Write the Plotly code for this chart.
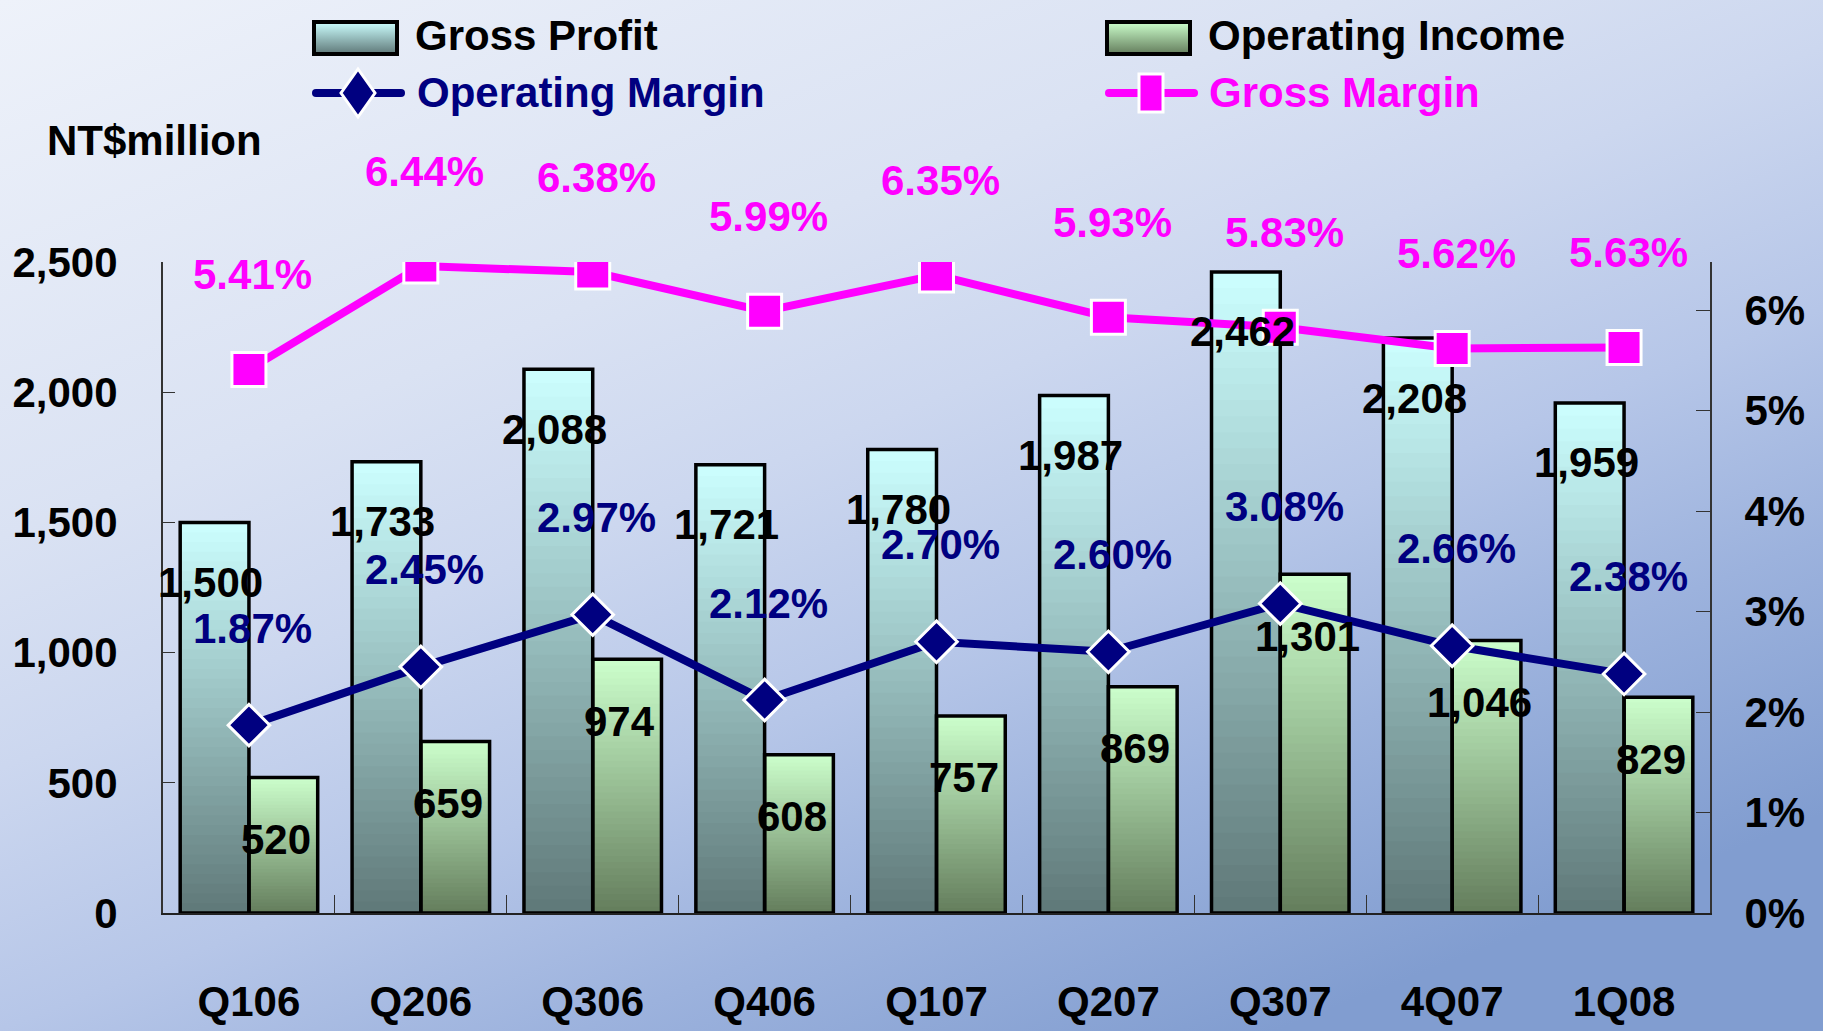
import base64
import plotly.graph_objects as go

# ---------------- data ----------------
categories = ["Q106", "Q206", "Q306", "Q406", "Q107", "Q207", "Q307", "4Q07", "1Q08"]
gross_profit = [1500, 1733, 2088, 1721, 1780, 1987, 2462, 2208, 1959]
operating_income = [520, 659, 974, 608, 757, 869, 1301, 1046, 829]
operating_margin = [1.87, 2.45, 2.97, 2.12, 2.70, 2.60, 3.08, 2.66, 2.38]
gross_margin = [5.41, 6.44, 6.38, 5.99, 6.35, 5.93, 5.83, 5.62, 5.63]

# ---------------- styling ----------------
W, H = 1823, 1031
L, R, T, B = 163, 1710, 262, 913          # plot-area pixel box
FONT = "Liberation Sans Narrow, Arial Narrow, Liberation Sans, Arial, sans-serif"
FS = 42
NAVY = "#000080"
MAG = "#FF00FF"
GP_TOP, GP_BOT = (204, 255, 255), (95, 120, 120)
OI_TOP, OI_BOT = (204, 255, 204), (100, 125, 92)
K = 40  # gradient steps


def px(x):
    return (x - L) / (R - L)


def py(y):
    return (B - y) / (B - T)


def mix(c0, c1, f):
    return "rgb(%d,%d,%d)" % tuple(round(a + (b - a) * f) for a, b in zip(c0, c1))


def svg_uri(svg):
    return "data:image/svg+xml;base64," + base64.b64encode(svg.encode()).decode()


fig = go.Figure()


def gradient_bars(values, top, bot, group):
    # overlapping bars of decreasing height give a vertical gradient per bar
    for k in range(K):
        frac = (K - k) / K
        f = (K - k - 0.5) / K
        fig.add_trace(go.Bar(
            x=categories, y=[v * frac for v in values], offsetgroup=group,
            marker=dict(color=mix(bot, top, f), line=dict(width=0)),
            showlegend=False, hoverinfo="skip"))


gradient_bars(gross_profit, GP_TOP, GP_BOT, "gp")
gradient_bars(operating_income, OI_TOP, OI_BOT, "oi")

fig.add_trace(go.Bar(x=categories, y=gross_profit, offsetgroup="gp", name="Gross Profit",
                     marker=dict(color="rgba(0,0,0,0)", line=dict(color="black", width=3.5)),
                     showlegend=False))
fig.add_trace(go.Bar(x=categories, y=operating_income, offsetgroup="oi", name="Operating Income",
                     marker=dict(color="rgba(0,0,0,0)", line=dict(color="black", width=3.5)),
                     showlegend=False))

fig.add_trace(go.Scatter(x=categories, y=operating_margin, yaxis="y2", name="Operating Margin",
                         mode="lines+markers", line=dict(color=NAVY, width=8),
                         marker=dict(symbol="diamond", size=32, color=NAVY,
                                     line=dict(color="white", width=3)),
                         showlegend=False))
fig.add_trace(go.Scatter(x=categories, y=gross_margin, yaxis="y2", name="Gross Margin",
                         mode="lines+markers", line=dict(color=MAG, width=8),
                         marker=dict(symbol="square", size=34, color=MAG,
                                     line=dict(color="white", width=3)),
                         showlegend=False))

annotations = []
lab_font = dict(family=FONT, size=FS, weight="bold")
for c, v in zip(categories, gross_profit):
    annotations.append(dict(x=c, y=v, xref="x", yref="y", text=f"{v:,}", showarrow=False,
                            xshift=-38, yshift=-60, font=dict(lab_font, color="black")))
for c, v in zip(categories, operating_income):
    annotations.append(dict(x=c, y=v, xref="x", yref="y", text=f"{v:,}", showarrow=False,
                            xshift=27, yshift=-62, font=dict(lab_font, color="black")))
for c, v in zip(categories, operating_margin):
    annotations.append(dict(x=c, y=v, xref="x", yref="y2", text=f"{v:.2f}%", showarrow=False,
                            xshift=4, yshift=97, font=dict(lab_font, color=NAVY)))
for c, v in zip(categories, gross_margin):
    annotations.append(dict(x=c, y=v, xref="x", yref="y2", text=f"{v:.2f}%", showarrow=False,
                            xshift=4, yshift=95, font=dict(lab_font, color=MAG)))

# unit label
annotations.append(dict(x=px(45), y=py(140), xref="paper", yref="paper", xanchor="left",
                        yanchor="middle", text="NT$million", showarrow=False,
                        font=dict(lab_font, color="black")))

# custom legend text
legend_items = [
    ("Gross Profit", "black", 413, 35),
    ("Operating Income", "black", 1206, 35),
    ("Operating Margin", NAVY, 415, 93),
    ("Gross Margin", MAG, 1207, 93),
]
for text, col, lx, ly in legend_items:
    annotations.append(dict(x=px(lx), y=py(ly), xref="paper", yref="paper", xanchor="left",
                            yanchor="middle", text=text, showarrow=False,
                            font=dict(lab_font, color=col)))

# ---------------- images: background & legend swatches ----------------
bg_stops = [(0, "#eef2fa"), (0.35, "#dae2f3"), (0.5, "#ccd7ef"), (0.67, "#b6c6e8"),
            (0.82, "#9cb2dd"), (1, "#819dd0")]
bg_svg = ('<svg xmlns="http://www.w3.org/2000/svg" width="%d" height="%d" preserveAspectRatio="none">'
          '<defs><linearGradient id="g" x1="0" y1="0" x2="0.7" y2="1">%s</linearGradient></defs>'
          '<rect width="%d" height="%d" fill="url(#g)"/></svg>') % (
    W, H, "".join('<stop offset="%s" stop-color="%s"/>' % s for s in bg_stops), W, H)


def bar_swatch(top, bot):
    return ('<svg xmlns="http://www.w3.org/2000/svg" width="87" height="36">'
            '<defs><linearGradient id="s" x1="0" y1="0" x2="0" y2="1">'
            '<stop offset="0" stop-color="%s"/><stop offset="1" stop-color="%s"/>'
            '</linearGradient></defs>'
            '<rect x="2" y="2" width="83" height="32" fill="url(#s)" stroke="black" stroke-width="4"/>'
            '</svg>') % (mix(top, top, 0), mix(bot, bot, 0))


om_swatch = ('<svg xmlns="http://www.w3.org/2000/svg" width="93" height="54">'
             '<line x1="4" y1="27" x2="89" y2="27" stroke="%s" stroke-width="8" stroke-linecap="round"/>'
             '<polygon points="46,3 63,27 46,51 29,27" fill="%s" stroke="white" stroke-width="3"/>'
             '</svg>') % (NAVY, NAVY)
gm_swatch = ('<svg xmlns="http://www.w3.org/2000/svg" width="93" height="54">'
             '<line x1="4" y1="27" x2="89" y2="27" stroke="%s" stroke-width="8" stroke-linecap="round"/>'
             '<rect x="34" y="8" width="24" height="38" fill="%s" stroke="white" stroke-width="3"/>'
             '</svg>') % (MAG, MAG)

images = [dict(source=svg_uri(bg_svg), xref="paper", yref="paper", x=px(0), y=py(0),
               sizex=W / (R - L), sizey=H / (B - T), xanchor="left", yanchor="top",
               sizing="stretch", layer="below")]
for svg, x0, y0, w, h in [
    (bar_swatch(GP_TOP, GP_BOT), 312, 20, 87, 36),
    (bar_swatch(OI_TOP, OI_BOT), 1105, 20, 87, 36),
    (om_swatch, 312, 66, 93, 54),
    (gm_swatch, 1105, 66, 93, 54),
]:
    images.append(dict(source=svg_uri(svg), xref="paper", yref="paper", x=px(x0), y=py(y0),
                       sizex=w / (R - L), sizey=h / (B - T), xanchor="left", yanchor="top",
                       sizing="stretch", layer="above"))

tick_font = dict(family=FONT, size=FS, color="black", weight="bold")
fig.update_layout(
    width=W, height=H,
    margin=dict(l=L, r=W - R, t=T, b=H - B, pad=0, autoexpand=False),
    paper_bgcolor="#c9d5ee", plot_bgcolor="rgba(0,0,0,0)",
    barmode="group", bargap=0.2, bargroupgap=0,
    showlegend=False,
    font=dict(family=FONT),
    xaxis=dict(type="category", range=[-0.5, len(categories) - 0.5], showgrid=False,
               showline=True, linecolor="#222", linewidth=2,
               ticks="inside", tickson="boundaries", ticklen=18, tickcolor="#333",
               tickfont=tick_font, ticklabelstandoff=51, zeroline=False, automargin=False),
    yaxis=dict(range=[0, 2500], dtick=500, tickformat=",d", showgrid=False, showline=True,
               linecolor="#333", linewidth=2, ticks="inside", ticklen=12, tickcolor="#333",
               tickfont=tick_font, ticklabelstandoff=35, zeroline=False, automargin=False),
    yaxis2=dict(range=[0, 6.48], dtick=1, ticksuffix="%", overlaying="y", side="right",
                showgrid=False, showline=True, linecolor="#333", linewidth=2, ticks="inside",
                ticklen=14, tickcolor="#333", tickfont=tick_font, ticklabelstandoff=24,
                zeroline=False, automargin=False),
    annotations=annotations,
    images=images,
)

fig.write_html("out.html", config={"displayModeBar": False},
               post_script="document.body.style.margin='0';document.body.style.overflow='hidden';")
